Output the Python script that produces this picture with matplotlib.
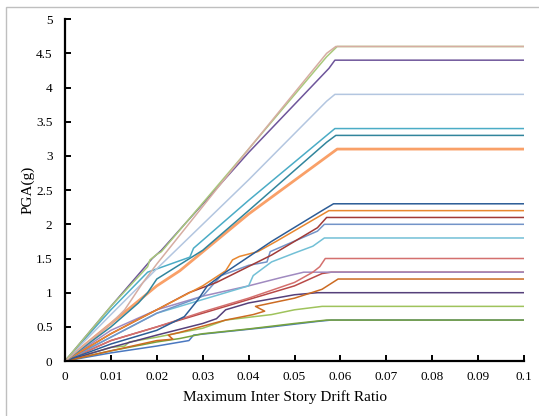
import matplotlib
matplotlib.use("Agg")
import matplotlib.pyplot as plt
from matplotlib.patches import Rectangle

plt.rcParams['font.family'] = ['Liberation Serif', 'DejaVu Serif']

# ---- IDA curves (drift ratio, PGA in g) ----
gm01_drift = [0, 0.01, 0.018, 0.0185, 0.02, 0.021, 0.04, 0.057, 0.0593, 0.1]
gm01_pga = [0, 0.8, 1.38, 1.48, 1.56, 1.6, 3.1, 4.45, 4.6, 4.6]

gm02_drift = [0, 0.01, 0.013, 0.017, 0.02, 0.04, 0.057, 0.059, 0.1]
gm02_pga = [0, 0.55, 0.75, 1.15, 1.42, 3.1, 4.5, 4.6, 4.6]

gm03_drift = [0, 0.01, 0.019, 0.021, 0.04, 0.0575, 0.0588, 0.1]
gm03_pga = [0, 0.8, 1.5, 1.62, 3.05, 4.28, 4.4, 4.4]

gm04_drift = [0, 0.01, 0.02, 0.04, 0.057, 0.0588, 0.1]
gm04_pga = [0, 0.68, 1.35, 2.65, 3.8, 3.9, 3.9]

gm05_drift = [0, 0.01, 0.018, 0.0272, 0.028, 0.04, 0.057, 0.0588, 0.1]
gm05_pga = [0, 0.75, 1.3, 1.52, 1.65, 2.35, 3.3, 3.4, 3.4]

gm06_drift = [0, 0.01, 0.016, 0.018, 0.02, 0.03, 0.04, 0.057, 0.059, 0.1]
gm06_pga = [0, 0.5, 0.85, 1.0, 1.2, 1.62, 2.2, 3.2, 3.3, 3.3]

gm07_drift = [0, 0.01, 0.02, 0.025, 0.04, 0.0593, 0.1]
gm07_pga = [0, 0.55, 1.1, 1.32, 2.15, 3.1, 3.1]

gm08_drift = [0, 0.01, 0.02, 0.026, 0.029, 0.031, 0.035, 0.045, 0.056, 0.0585, 0.1]
gm08_pga = [0, 0.25, 0.45, 0.65, 0.9, 1.1, 1.3, 1.75, 2.2, 2.3, 2.3]

gm09_drift = [0, 0.01, 0.02, 0.03, 0.035, 0.0365, 0.038, 0.042, 0.046, 0.0575, 0.1]
gm09_pga = [0, 0.4, 0.75, 1.1, 1.32, 1.48, 1.53, 1.6, 1.75, 2.2, 2.2]

gm10_drift = [0, 0.01, 0.02, 0.027, 0.033, 0.045, 0.055, 0.057, 0.1]
gm10_pga = [0, 0.4, 0.75, 1.0, 1.15, 1.55, 1.95, 2.1, 2.1]

gm11_drift = [0, 0.01, 0.02, 0.03, 0.034, 0.04, 0.044, 0.0447, 0.055, 0.0565, 0.1]
gm11_pga = [0, 0.35, 0.7, 0.95, 1.25, 1.4, 1.45, 1.6, 1.9, 2.0, 2.0]

gm12_drift = [0, 0.01, 0.02, 0.03, 0.04, 0.041, 0.045, 0.05, 0.054, 0.0565, 0.1]
gm12_pga = [0, 0.35, 0.7, 0.9, 1.1, 1.25, 1.45, 1.58, 1.68, 1.8, 1.8]

gm13_drift = [0, 0.01, 0.02, 0.03, 0.04, 0.05, 0.054, 0.0555, 0.0567, 0.1]
gm13_pga = [0, 0.3, 0.5, 0.72, 0.92, 1.15, 1.3, 1.38, 1.5, 1.5]

gm14_drift = [0, 0.01, 0.02, 0.03, 0.04, 0.047, 0.052, 0.1]
gm14_pga = [0, 0.45, 0.75, 0.95, 1.1, 1.22, 1.3, 1.3]

gm15_drift = [0, 0.01, 0.02, 0.03, 0.04, 0.05, 0.056, 0.058, 0.1]
gm15_pga = [0, 0.3, 0.5, 0.7, 0.9, 1.1, 1.28, 1.3, 1.3]

gm16_drift = [0, 0.01, 0.02, 0.0235, 0.0225, 0.025, 0.035, 0.041, 0.0435, 0.0415, 0.045, 0.05, 0.056, 0.0595, 0.1]
gm16_pga = [0, 0.15, 0.3, 0.32, 0.38, 0.42, 0.6, 0.68, 0.73, 0.8, 0.85, 0.92, 1.05, 1.2, 1.2]

gm17_drift = [0, 0.01, 0.02, 0.03, 0.033, 0.035, 0.04, 0.05, 0.055, 0.1]
gm17_pga = [0, 0.2, 0.38, 0.55, 0.62, 0.75, 0.85, 0.97, 1.0, 1.0]

gm18_drift = [0, 0.01, 0.013, 0.014, 0.02, 0.03, 0.035, 0.045, 0.05, 0.056, 0.1]
gm18_pga = [0, 0.2, 0.22, 0.28, 0.35, 0.48, 0.6, 0.68, 0.75, 0.8, 0.8]

gm19_drift = [0, 0.01, 0.02, 0.025, 0.03, 0.04, 0.05, 0.057, 0.1]
gm19_pga = [0, 0.15, 0.28, 0.33, 0.4, 0.47, 0.55, 0.6, 0.6]

gm20_drift = [0, 0.01, 0.02, 0.027, 0.028, 0.035, 0.045, 0.055, 0.058, 0.1]
gm20_pga = [0, 0.12, 0.22, 0.3, 0.38, 0.43, 0.5, 0.58, 0.6, 0.6]

curves = [
    (gm20_drift, gm20_pga, '#4A78C0', 1.1),
    (gm19_drift, gm19_pga, '#77A33C', 1.1),
    (gm18_drift, gm18_pga, '#9FC35C', 1.1),
    (gm17_drift, gm17_pga, '#55407A', 1.1),
    (gm16_drift, gm16_pga, '#CC6B22', 1.1),
    (gm15_drift, gm15_pga, '#B94A48', 1.1),
    (gm14_drift, gm14_pga, '#A08AC0', 1.1),
    (gm13_drift, gm13_pga, '#D4706E', 1.1),
    (gm12_drift, gm12_pga, '#72C0D6', 1.1),
    (gm11_drift, gm11_pga, '#7394C8', 1.1),
    (gm10_drift, gm10_pga, '#A13A37', 1.1),
    (gm09_drift, gm09_pga, '#E8872F', 1.1),
    (gm08_drift, gm08_pga, '#2C5C96', 1.1),
    (gm07_drift, gm07_pga, '#F9A068', 2.0),
    (gm06_drift, gm06_pga, '#31859C', 1.1),
    (gm05_drift, gm05_pga, '#4BACC6', 1.1),
    (gm04_drift, gm04_pga, '#B3C6E0', 1.1),
    (gm03_drift, gm03_pga, '#6E559A', 1.1),
    (gm01_drift, gm01_pga, '#A9C97B', 1.1),
    (gm02_drift, gm02_pga, '#D6ADA2', 1.1),
]

fig = plt.figure(figsize=(5.39, 4.16), dpi=100)
fig.patches.append(Rectangle((6 / 539, -0.1), 2, 1.1 - 7 / 416, transform=fig.transFigure,
                             fill=False, edgecolor='#BFBFBF', linewidth=1.0))
ax = fig.add_axes([0.1206, 0.132, 0.8516, 0.822])

for drift, pga, col, lw in curves:
    ax.plot(drift, pga, color=col, linewidth=lw, solid_joinstyle='round', solid_capstyle='round')

ax.set_xlim(0, 0.1)
ax.set_ylim(0, 5)
ax.set_xticks([i / 100 for i in range(11)])
ax.set_xticklabels(['0', '0.01', '0.02', '0.03', '0.04', '0.05', '0.06', '0.07', '0.08', '0.09', '0.1'])
ax.set_yticks([i / 2 for i in range(11)])
ax.set_yticklabels(['0', '0.5', '1', '1.5', '2', '2.5', '3', '3.5', '4', '4.5', '5'])

for s in ['top', 'right']:
    ax.spines[s].set_visible(False)
for s in ['left', 'bottom']:
    ax.spines[s].set_linewidth(1.6)
ax.tick_params(direction='in', length=4, width=1.4, labelsize=9.5, colors='black')
ax.tick_params(axis='x', pad=7)
ax.tick_params(axis='y', pad=9)

ax.set_xlabel('Maximum Inter Story Drift Ratio', fontsize=11, labelpad=7)
ax.xaxis.set_label_coords(0.479, -0.085)
ax.set_ylabel('PGA(g)', fontsize=11, labelpad=1)

fig.savefig('out.png', dpi=100)
